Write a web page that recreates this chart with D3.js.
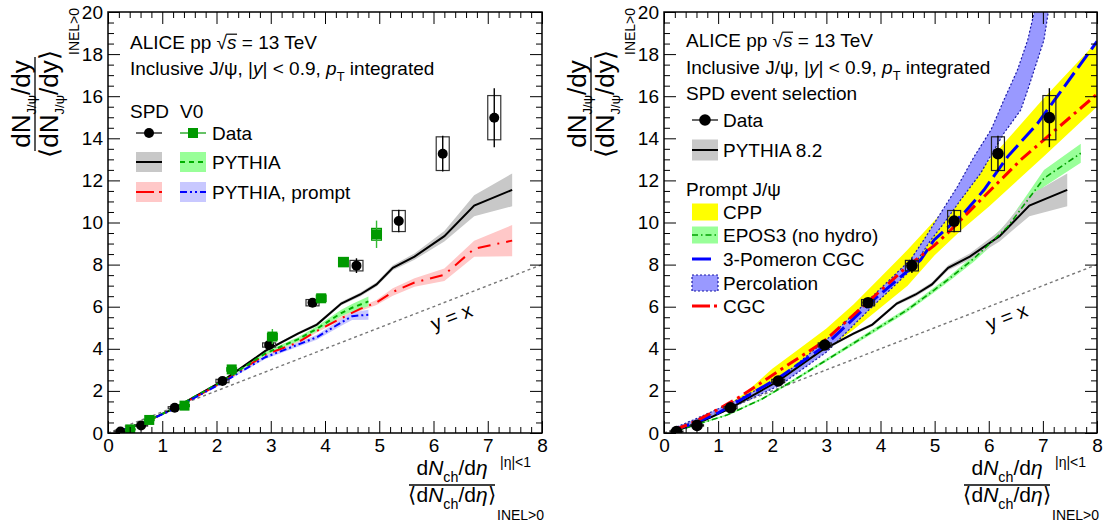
<!DOCTYPE html>
<html>
<head>
<meta charset="utf-8">
<script src="https://cdn.jsdelivr.net/npm/d3@7"></script>
<style>
  body { margin: 0; background: #fff; }
  svg { display: block; }
  text { font-family: 'Liberation Sans', Arial, Helvetica, sans-serif; fill: #000; }
</style>
</head>
<body>
<svg id="chart" width="1106" height="523"></svg>
<script>
// ---- axis ticks ----
var xTicks = [0, 1, 2, 3, 4, 5, 6, 7, 8];
var yTicks = [0, 2, 4, 6, 8, 10, 12, 14, 16, 18, 20];
var yxLine = [0, 8];

// ---- ALICE data, SPD event selection ----
var spdX    = [0.23, 0.61, 1.23, 2.11, 2.97, 3.77, 4.58, 5.36, 6.17, 7.12];
var spdY    = [0.07, 0.36, 1.20, 2.47, 4.18, 6.19, 7.95, 10.07, 13.27, 14.98];
var spdStat = [0.02, 0.03, 0.05, 0.08, 0.12, 0.18, 0.35, 0.53, 0.85, 1.40];
var spdSyst = [0.02, 0.03, 0.05, 0.08, 0.10, 0.15, 0.25, 0.50, 0.80, 1.05];

// ---- ALICE data, V0 event selection ----
var v0X    = [0.41, 0.76, 1.41, 2.28, 3.03, 3.93, 4.34, 4.95];
var v0Y    = [0.17, 0.62, 1.30, 3.02, 4.58, 6.40, 8.12, 9.44];
var v0Stat = [0.02, 0.03, 0.05, 0.10, 0.36, 0.20, 0.22, 0.65];
var v0Syst = [0.02, 0.03, 0.05, 0.08, 0.15, 0.15, 0.22, 0.28];

// ---- PYTHIA, SPD (inclusive and prompt) ----
var pyX      = [0.2, 0.6, 1.2, 2.1, 2.9, 3.5, 3.85, 4.3, 4.65, 4.95, 5.25, 5.65, 6.2, 6.75, 7.45];
var pyY      = [0.10, 0.42, 1.15, 2.45, 3.90, 4.72, 5.15, 6.15, 6.58, 7.06, 7.85, 8.38, 9.35, 10.80, 11.55];
var pyErr    = [0.02, 0.03, 0.04, 0.05, 0.06, 0.07, 0.08, 0.08, 0.10, 0.10, 0.12, 0.15, 0.25, 0.50, 0.78];
var pyPromptY   = [0.10, 0.42, 1.13, 2.40, 3.72, 4.30, 4.85, 5.45, 5.90, 6.20, 6.70, 7.15, 7.52, 8.75, 9.14];
var pyPromptErr = [0.02, 0.03, 0.04, 0.05, 0.06, 0.07, 0.08, 0.08, 0.10, 0.12, 0.18, 0.20, 0.30, 0.38, 0.74];

// ---- PYTHIA, V0 (inclusive and prompt) ----
var pvX         = [0.2, 0.6, 1.2, 2.1, 2.9, 3.5, 3.85, 4.3, 4.5, 4.8];
var pvY         = [0.10, 0.42, 1.15, 2.45, 3.78, 4.45, 4.95, 5.70, 5.95, 6.25];
var pvErr       = [0.02, 0.03, 0.04, 0.05, 0.08, 0.10, 0.12, 0.15, 0.18, 0.23];
var pvPromptY   = [0.10, 0.42, 1.12, 2.38, 3.60, 4.20, 4.55, 5.25, 5.55, 5.62];
var pvPromptErr = [0.02, 0.03, 0.04, 0.05, 0.08, 0.10, 0.12, 0.15, 0.18, 0.24];

// ---- models, prompt J/psi ----
var cppX  = [1.0, 1.5, 2.0, 2.5, 3.0, 3.5, 4.0, 4.5, 5.0, 5.5, 6.0, 7.0, 8.0];
var cppHi = [1.05, 1.90, 3.05, 4.00, 4.97, 6.10, 7.40, 8.70, 10.10, 11.50, 12.95, 15.85, 18.60];
var cppLo = [0.90, 1.50, 2.20, 3.00, 3.94, 4.90, 5.95, 7.00, 8.45, 9.65, 10.75, 13.10, 15.50];

var eposX   = [0.17, 0.6, 1.16, 1.8, 2.33, 3.2, 3.9, 4.49, 4.99, 5.24, 5.73, 6.35, 6.72, 7.02, 7.7];
var eposY   = [0.05, 0.40, 0.85, 1.60, 2.40, 3.78, 4.90, 5.84, 6.79, 7.27, 8.30, 9.80, 11.07, 12.10, 13.29];
var eposErr = [0.02, 0.03, 0.04, 0.05, 0.06, 0.08, 0.10, 0.10, 0.12, 0.12, 0.15, 0.20, 0.30, 0.40, 0.45];

var pomX = [0.17, 0.54, 1.0, 1.41, 2.15, 2.95, 3.87, 4.74, 4.99, 5.54, 5.91, 6.35, 6.9, 8.0];
var pomY = [0.14, 0.45, 0.95, 1.57, 2.67, 4.10, 6.32, 8.22, 9.17, 10.44, 11.54, 13.13, 14.70, 18.60];

var percUpX = [0.17, 0.54, 1.16, 2.15, 3.01, 3.75, 4.56, 4.8, 5.11, 5.42, 5.73, 6.04, 6.28, 6.53, 6.72, 6.84, 6.95];
var percUpY = [0.22, 0.62, 1.33, 2.62, 4.45, 6.24, 8.25, 9.17, 10.44, 11.70, 13.13, 14.39, 15.82, 17.24, 18.67, 20.0, 21.0];
var percLoX = [0.17, 0.54, 1.16, 2.15, 3.01, 3.75, 4.56, 4.93, 5.17, 5.48, 5.85, 6.28, 6.59, 6.72, 7.02, 7.1, 7.2];
var percLoY = [0.05, 0.38, 1.09, 2.28, 3.86, 5.76, 7.74, 9.17, 9.96, 11.07, 12.34, 14.24, 15.34, 16.30, 18.67, 20.0, 21.0];

var cgcX = [0.2, 0.54, 0.98, 1.41, 2.15, 2.95, 3.81, 4.49, 4.99, 5.24, 5.85, 6.59, 8.0];
var cgcY = [0.15, 0.50, 1.10, 1.73, 3.00, 4.34, 6.32, 7.90, 8.90, 9.49, 11.07, 12.97, 16.10];

var FS = 19; // legend / tick label size
var svg = d3.select('#chart');

function zip(xs, ys, es) {
  return xs.map(function(v, i) { return { x: v, y: ys[i], e: es ? es[i] : 0 }; });
}

// append tspans with sub/superscripts and italics
function rich(sel, parts, size, subSize, subShift) {
  var shift = 0;
  subSize = subSize || size * 0.68;
  subShift = subShift || size * 0.32;
  parts.forEach(function(p) {
    var target = p.sub ? subShift : (p.sup ? -size * 0.4 : 0);
    var ts = sel.append('tspan').text(p.t).attr('dy', target - shift);
    shift = target;
    if (p.sub || p.sup) ts.attr('font-size', subSize);
    if (p.it) ts.attr('font-style', 'italic');
  });
}

function label(g, x, yb, parts, size) {
  size = size || FS;
  var t = g.append('text').attr('x', x).attr('y', yb).attr('font-size', size);
  rich(t, typeof parts === 'string' ? [{ t: parts }] : parts, size);
  return t;
}

function aliceLine(g, x, yb) {
  var t = label(g, x, yb, [{ t: 'ALICE pp √' }, { t: 's', it: true }, { t: ' = 13 TeV' }]);
  var n = t.node();
  var r = n.getExtentOfChar(9), s = n.getExtentOfChar(10);
  g.append('line')
    .attr('x1', r.x + r.width - 0.8).attr('x2', s.x + s.width + 0.5)
    .attr('y1', yb - 14.8).attr('y2', yb - 14.8)
    .attr('stroke', '#000').attr('stroke-width', 1.2);
}

function makePanel(id, x0, x1) {
  var p = {
    id: id, x0: x0, x1: x1,
    x: d3.scaleLinear().domain([0, 8]).range([x0, x1]),
    y: d3.scaleLinear().domain([0, 20]).range([433, 12])
  };
  svg.append('clipPath').attr('id', 'clip-' + id)
    .append('rect').attr('x', x0).attr('y', 12).attr('width', x1 - x0).attr('height', 421);
  p.g = svg.append('g');
  p.plot = p.g.append('g').attr('clip-path', 'url(#clip-' + id + ')');
  return p;
}

function band(p, pts, fill) {
  p.plot.append('path').datum(pts)
    .attr('d', d3.area().x(function(d) { return p.x(d.x); })
      .y0(function(d) { return p.y(d.y - d.e); })
      .y1(function(d) { return p.y(d.y + d.e); }))
    .attr('fill', fill).attr('stroke', 'none');
}

function curve(p, pts, color, width, dash) {
  p.plot.append('path').datum(pts)
    .attr('d', d3.line().x(function(d) { return p.x(d.x); }).y(function(d) { return p.y(d.y); }))
    .attr('fill', 'none').attr('stroke', color).attr('stroke-width', width)
    .attr('stroke-dasharray', dash || null);
}

function diagonal(p) {
  p.plot.append('path').datum(yxLine)
    .attr('d', d3.line().x(function(d) { return p.x(d); }).y(function(d) { return p.y(d); }))
    .attr('fill', 'none').attr('stroke', '#777').attr('stroke-width', 1.4)
    .attr('stroke-dasharray', '3,3');
  var ang = -Math.atan2(p.y(0) - p.y(1), p.x(1) - p.x(0)) * 180 / Math.PI;
  p.g.append('text')
    .attr('transform', 'translate(' + p.x(6.33) + ',' + p.y(5.52) + ') rotate(' + ang + ')')
    .attr('text-anchor', 'middle').attr('dy', '0.35em').attr('font-size', 20)
    .text('y = x');
}

function dataPoints(p, pts, opt) {
  var g = p.plot.append('g');
  // systematic boxes
  g.selectAll('rect.syst').data(pts).enter().append('rect')
    .attr('x', function(d) { return p.x(d.x - opt.bw); })
    .attr('width', function(d) { return p.x(d.x + opt.bw) - p.x(d.x - opt.bw); })
    .attr('y', function(d) { return p.y(d.y + d.s); })
    .attr('height', function(d) { return p.y(d.y - d.s) - p.y(d.y + d.s); })
    .attr('fill', 'none').attr('stroke', opt.boxColor).attr('stroke-width', 1.2);
  // statistical bars
  g.selectAll('line.stat').data(pts).enter().append('line')
    .attr('x1', function(d) { return p.x(d.x); }).attr('x2', function(d) { return p.x(d.x); })
    .attr('y1', function(d) { return p.y(d.y - d.e); }).attr('y2', function(d) { return p.y(d.y + d.e); })
    .attr('stroke', opt.barColor).attr('stroke-width', 1.4);
  if (opt.square) {
    g.selectAll('rect.mk').data(pts).enter().append('rect')
      .attr('x', function(d) { return p.x(d.x) - 5; }).attr('y', function(d) { return p.y(d.y) - 5; })
      .attr('width', 10).attr('height', 10).attr('fill', opt.color);
  } else {
    g.selectAll('circle').data(pts).enter().append('circle')
      .attr('cx', function(d) { return p.x(d.x); }).attr('cy', function(d) { return p.y(d.y); })
      .attr('r', opt.r).attr('fill', opt.color);
  }
}

function withSyst(xs, ys, stat, syst) {
  return xs.map(function(v, i) { return { x: v, y: ys[i], e: stat[i], s: syst[i] }; });
}

function axes(p) {
  var g = p.g.append('g');
  var minX = d3.range(0, 40).map(function(i) { return i * 0.2; }).filter(function(v, i) { return i % 5; });
  var minY = d3.range(0, 40).map(function(i) { return i * 0.5; }).filter(function(v, i) { return i % 4; });
  g.append('g').attr('transform', 'translate(0,433)')
    .call(d3.axisBottom(p.x).tickValues(xTicks).tickSize(-12).tickPadding(6).tickFormat(d3.format('d')));
  g.append('g').attr('transform', 'translate(0,433)')
    .call(d3.axisBottom(p.x).tickValues(minX).tickSize(-6).tickFormat(''));
  g.append('g').attr('transform', 'translate(0,12)')
    .call(d3.axisTop(p.x).tickValues(xTicks).tickSize(-12).tickFormat(''));
  g.append('g').attr('transform', 'translate(0,12)')
    .call(d3.axisTop(p.x).tickValues(minX).tickSize(-6).tickFormat(''));
  g.append('g').attr('transform', 'translate(' + p.x0 + ',0)')
    .call(d3.axisLeft(p.y).tickValues(yTicks).tickSize(-12).tickPadding(5).tickFormat(d3.format('d')));
  g.append('g').attr('transform', 'translate(' + p.x0 + ',0)')
    .call(d3.axisLeft(p.y).tickValues(minY).tickSize(-6).tickFormat(''));
  g.append('g').attr('transform', 'translate(' + p.x1 + ',0)')
    .call(d3.axisRight(p.y).tickValues(yTicks).tickSize(-12).tickFormat(''));
  g.append('g').attr('transform', 'translate(' + p.x1 + ',0)')
    .call(d3.axisRight(p.y).tickValues(minY).tickSize(-6).tickFormat(''));
  g.selectAll('.domain').remove();
  g.selectAll('.tick line').attr('stroke', '#000').attr('stroke-width', 1);
  g.selectAll('.tick text').attr('font-size', FS).attr('fill', '#000')
    .attr('font-family', "'Liberation Sans', Arial, sans-serif");
  p.g.append('rect').attr('x', p.x0).attr('y', 12).attr('width', p.x1 - p.x0).attr('height', 421)
    .attr('fill', 'none').attr('stroke', '#000').attr('stroke-width', 1.5);

  // x title: fraction with |eta|<1 and INEL>0
  var xs = 21, cx = p.x1 - 90;
  var tx = p.g.append('g');
  rich(tx.append('text').attr('x', cx).attr('y', 475).attr('text-anchor', 'middle').attr('font-size', xs),
    [{ t: 'd' }, { t: 'N', it: true }, { t: 'ch', sub: true }, { t: '/d' }, { t: 'η', it: true }], xs);
  tx.append('line').attr('x1', cx - 43).attr('x2', cx + 43).attr('y1', 485).attr('y2', 485)
    .attr('stroke', '#000').attr('stroke-width', 1.3);
  rich(tx.append('text').attr('x', cx).attr('y', 502).attr('text-anchor', 'middle').attr('font-size', xs),
    [{ t: '⟨d' }, { t: 'N', it: true }, { t: 'ch', sub: true }, { t: '/d' }, { t: 'η', it: true }, { t: '⟩' }], xs);
  tx.append('text').attr('x', p.x1 - 42).attr('y', 467).attr('font-size', 14).text('|η|<1');
  tx.append('text').attr('x', p.x1 - 45).attr('y', 520).attr('font-size', 14).text('INEL>0');

  // y title: rotated fraction
  var ys = 26, cy = 104;
  var ty = p.g.append('g').attr('transform', 'translate(' + (p.x0 - 73) + ',' + cy + ') rotate(-90)');
  rich(ty.append('text').attr('x', 0).attr('y', -5).attr('text-anchor', 'middle').attr('font-size', ys),
    [{ t: 'dN' }, { t: 'J/ψ', sub: true }, { t: '/dy' }], ys, 13, 6);
  ty.append('line').attr('x1', -47).attr('x2', 47).attr('y1', 0).attr('y2', 0)
    .attr('stroke', '#000').attr('stroke-width', 1.3);
  rich(ty.append('text').attr('x', 0).attr('y', 23).attr('text-anchor', 'middle').attr('font-size', ys),
    [{ t: '⟨dN' }, { t: 'J/ψ', sub: true }, { t: '/dy⟩' }], ys, 13, 6);
  ty.append('text').attr('x', 49).attr('y', 44).attr('font-size', 14).text('INEL>0');
}

function swatch(g, x, yc, fill, stroke, dash, h) {
  h = h || 20;
  if (fill) {
    g.append('rect').attr('x', x).attr('y', yc - h / 2).attr('width', 26).attr('height', h)
      .attr('fill', fill).attr('stroke', 'none');
  }
  if (stroke) {
    g.append('line').attr('x1', x).attr('x2', x + 26).attr('y1', yc).attr('y2', yc)
      .attr('stroke', stroke.c).attr('stroke-width', stroke.w).attr('stroke-dasharray', dash || null);
  }
}

// ================= left panel =================
var L = makePanel('left', 108, 542);
band(L, zip(pyX, pyY, pyErr), '#c8c8c8');
band(L, zip(pyX, pyPromptY, pyPromptErr), '#ffc8c8');
band(L, zip(pvX, pvY, pvErr), '#99ff99');
band(L, zip(pvX, pvPromptY, pvPromptErr), '#c8c8ff');
diagonal(L);
curve(L, zip(pyX, pyY), '#000', 2);
curve(L, zip(pyX, pyPromptY), '#ff0000', 2, '13,7,2,7');
curve(L, zip(pvX, pvY), '#00b000', 2, '5,4');
curve(L, zip(pvX, pvPromptY), '#0000ff', 2, '7,3,2,3,2,3');
dataPoints(L, withSyst(spdX, spdY, spdStat, spdSyst), { bw: 0.12, boxColor: '#333', barColor: '#000', color: '#000', r: 5 });
dataPoints(L, withSyst(v0X, v0Y, v0Stat, v0Syst), { bw: 0.09, boxColor: '#009900', barColor: '#33bb33', color: '#009900', square: true });
axes(L);

var lg = L.g.append('g');
aliceLine(lg, 130, 49);
label(lg, 130, 75, [{ t: 'Inclusive J/ψ, |' }, { t: 'y', it: true }, { t: '| < 0.9, ' }, { t: 'p', it: true }, { t: 'T', sub: true }, { t: ' integrated' }]);
label(lg, 130, 118, 'SPD');
label(lg, 180, 118, 'V0');
swatch(lg, 136, 133, null, { c: '#000', w: 1.2 });
lg.append('circle').attr('cx', 149).attr('cy', 133).attr('r', 5).attr('fill', '#000');
swatch(lg, 180, 133, null, { c: '#009900', w: 1.2 });
lg.append('rect').attr('x', 188).attr('y', 128).attr('width', 10).attr('height', 10).attr('fill', '#009900');
label(lg, 212, 140, 'Data');
swatch(lg, 136, 162, '#c8c8c8', { c: '#000', w: 2 });
swatch(lg, 180, 162, '#99ff99', { c: '#00b000', w: 2 }, '5,4');
label(lg, 212, 169, 'PYTHIA');
swatch(lg, 136, 192, '#ffc8c8', { c: '#ff0000', w: 2 }, '18,5');
swatch(lg, 180, 192, '#c8c8ff', { c: '#0000ff', w: 2 }, '7,3,2,3,2,3');
label(lg, 212, 199, 'PYTHIA, prompt');

// ================= right panel =================
var R = makePanel('right', 664, 1097);
R.plot.append('path')
  .datum(cppX.map(function(v, i) { return { x: v, lo: cppLo[i], hi: cppHi[i] }; }))
  .attr('d', d3.area().x(function(d) { return R.x(d.x); })
    .y0(function(d) { return R.y(d.lo); }).y1(function(d) { return R.y(d.hi); }))
  .attr('fill', '#ffff00');
var percLine = d3.line().x(function(d) { return R.x(d.x); }).y(function(d) { return R.y(d.y); });
var percPts = zip(percUpX, percUpY).concat(zip(percLoX, percLoY).reverse());
R.plot.append('path').datum(percPts)
  .attr('d', function(d) { return percLine(d) + 'Z'; })
  .attr('fill', '#9999ff').attr('stroke', '#1a1aa8').attr('stroke-width', 1.2).attr('stroke-dasharray', '2,2');
band(R, zip(eposX, eposY, eposErr), '#99ff99');
band(R, zip(pyX, pyY, pyErr), '#c8c8c8');
diagonal(R);
curve(R, zip(pyX, pyY), '#000', 2);
curve(R, zip(eposX, eposY), '#00a000', 1.6, '6,3,1.5,3');
curve(R, zip(pomX, pomY), '#0000ff', 3, '17,6');
curve(R, zip(cgcX, cgcY), '#ff0000', 3, '13,5,3,5');
dataPoints(R, withSyst(spdX, spdY, spdStat, spdSyst), { bw: 0.12, boxColor: '#222', barColor: '#000', color: '#000', r: 5.8 });
axes(R);

var rg = R.g.append('g');
aliceLine(rg, 686, 47);
label(rg, 686, 74, [{ t: 'Inclusive J/ψ, |' }, { t: 'y', it: true }, { t: '| < 0.9, ' }, { t: 'p', it: true }, { t: 'T', sub: true }, { t: ' integrated' }]);
label(rg, 686, 100, 'SPD event selection');
swatch(rg, 692, 120, null, { c: '#000', w: 1.2 });
rg.append('circle').attr('cx', 705).attr('cy', 120).attr('r', 5.8).attr('fill', '#000');
label(rg, 723, 127, 'Data');
swatch(rg, 692, 150, '#c8c8c8', { c: '#000', w: 2 }, null, 21);
label(rg, 723, 157, 'PYTHIA 8.2');
label(rg, 686, 196, 'Prompt J/ψ');
swatch(rg, 692, 212, '#ffff00', null, null, 17);
label(rg, 723, 219, 'CPP');
swatch(rg, 692, 235, '#99ff99', { c: '#00a000', w: 1.6 }, '6,3,1.5,3', 17);
label(rg, 723, 242, 'EPOS3 (no hydro)');
swatch(rg, 692, 259, null, { c: '#0000ff', w: 3 }, '19,30');
label(rg, 723, 266, ' 3-Pomeron CGC');
rg.append('rect').attr('x', 692).attr('y', 275).attr('width', 26).attr('height', 16)
  .attr('fill', '#9999ff').attr('stroke', '#1a1aa8').attr('stroke-width', 1.2).attr('stroke-dasharray', '2,2');
label(rg, 723, 290, 'Percolation');
swatch(rg, 692, 306, null, { c: '#ff0000', w: 3 }, '18,4,3,30');
label(rg, 723, 313, 'CGC');
</script>
</body>
</html>
